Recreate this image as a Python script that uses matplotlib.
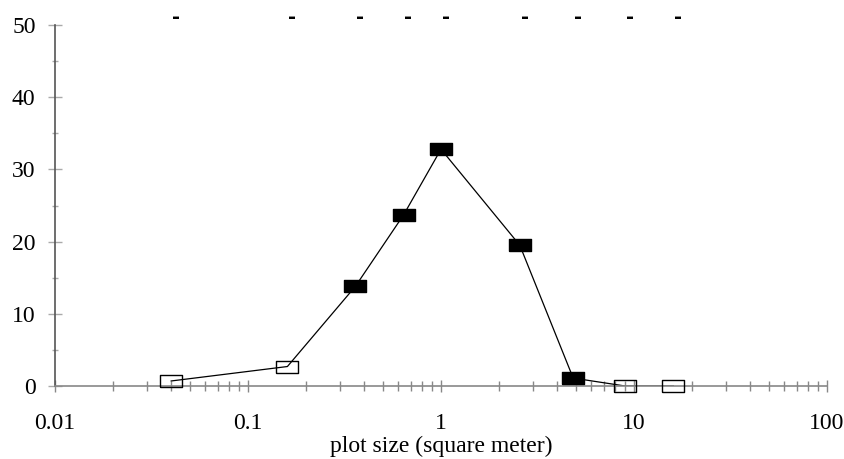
import matplotlib
matplotlib.use("Agg")
import matplotlib.pyplot as plt
from matplotlib.ticker import LogLocator, MultipleLocator, FixedLocator, NullFormatter

plt.rcParams["font.family"] = ["Liberation Serif", "DejaVu Serif"]

# plot sizes (m^2) and percentage values
plot_size = [0.04, 0.16, 0.36, 0.64, 1.0, 2.56, 4.84, 9.0, 16.0]
values = [0.7, 2.7, 13.8, 23.7, 32.8, 19.5, 1.1, 0.0, 0.0]
filled = [False, False, True, True, True, True, True, False, False]
top_marks = ["-"] * len(plot_size)

x_ticks = [0.01, 0.1, 1, 10, 100]
x_tick_labels = ["0.01", "0.1", "1", "10", "100"]
y_ticks = [0, 10, 20, 30, 40, 50]

# flat rectangle marker, wider than tall
RECT = [(-0.5, -0.29), (0.5, -0.29), (0.5, 0.29), (-0.5, 0.29), (-0.5, -0.29)]

fig = plt.figure(figsize=(8.45, 4.59), dpi=100)
ax = fig.add_axes([0.0651, 0.159, 0.9136, 0.7865])

ax.plot(plot_size, values, color="black", lw=0.9, zorder=2)
for x, y, f in zip(plot_size, values, filled):
    ax.plot([x], [y], marker=RECT, ms=16, mew=1.0, mec="black",
            mfc="black" if f else "none", ls="none", zorder=3, clip_on=False)

for x, s in zip(plot_size, top_marks):
    ax.annotate(s, (x, 51.0), xytext=(3.5, 0), textcoords="offset points",
                ha="center", va="center", fontsize=14, fontweight="bold",
                family="DejaVu Sans", annotation_clip=False)

ax.set_xscale("log")
ax.set_xlim(0.01, 100)
ax.set_ylim(0, 50)

ax.xaxis.set_major_locator(FixedLocator(x_ticks))
ax.set_xticklabels(x_tick_labels)
ax.xaxis.set_minor_locator(LogLocator(base=10, subs=range(2, 10), numticks=20))
ax.xaxis.set_minor_formatter(NullFormatter())
ax.yaxis.set_major_locator(FixedLocator(y_ticks))
ax.yaxis.set_minor_locator(MultipleLocator(5))

for side in ("top", "right"):
    ax.spines[side].set_visible(False)
ax.spines["left"].set_color("#555555")
ax.spines["bottom"].set_color("#888888")
ax.spines["left"].set_linewidth(1.2)
ax.spines["bottom"].set_linewidth(1.2)

ax.tick_params(axis="x", which="major", direction="inout", length=9, width=1.0,
               color="#888888", labelsize=17, pad=15)
ax.tick_params(axis="x", which="minor", direction="inout", length=7, width=1.0,
               color="#888888")
ax.tick_params(axis="y", which="major", direction="inout", length=10, width=1.0,
               color="#aaaaaa", labelsize=17, pad=9)
ax.tick_params(axis="y", which="minor", direction="inout", length=5, width=1.0,
               color="#aaaaaa")

ax.set_xlabel("plot size (square meter)", fontsize=17, labelpad=1)

fig.savefig("out.png", dpi=100)
